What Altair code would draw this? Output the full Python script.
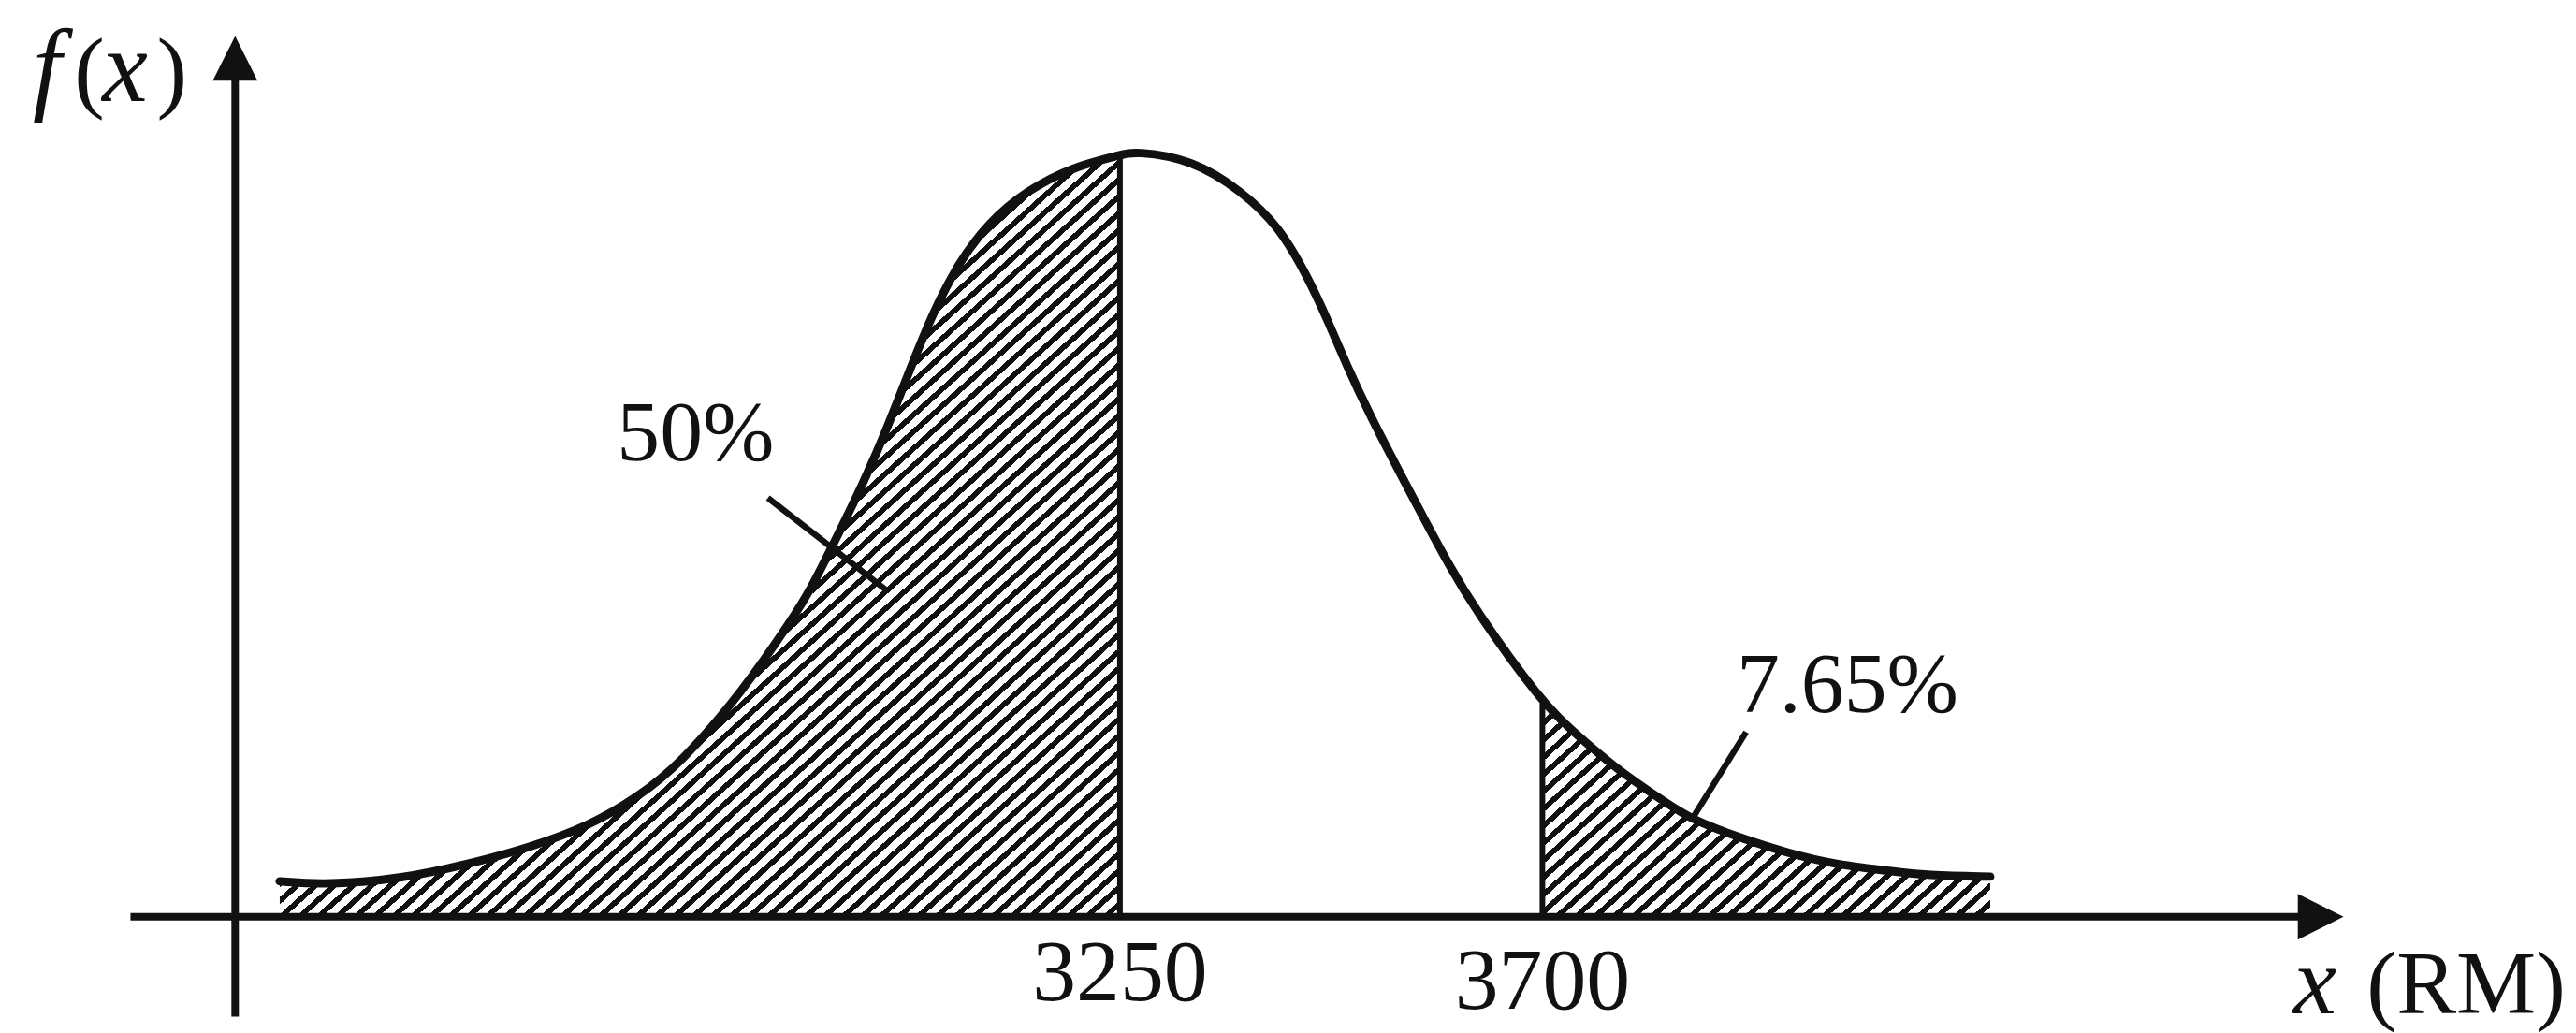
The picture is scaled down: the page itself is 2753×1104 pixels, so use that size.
import math
import altair as alt
import pandas as pd

# ---------------- data ----------------
# x in RM, f = relative height of the density curve (axis has no scale)
curve_x = [2355, 2405, 2487, 2554, 2621, 2686, 2736, 2781, 2850, 2902,
           2919, 2949, 2978, 3001, 3028, 3051, 3078, 3110, 3150, 3200,
           3250, 3265, 3329, 3379, 3419, 3451, 3471, 3491, 3518, 3545,
           3571, 3600, 3627, 3700, 3730, 3779, 3829, 3859, 3912, 3962,
           4012, 4062, 4111, 4177]
curve_f = [0.038, 0.034, 0.041, 0.056, 0.074, 0.098, 0.128, 0.163, 0.244, 0.321,
           0.348, 0.408, 0.468, 0.521, 0.591, 0.648, 0.701, 0.744, 0.778, 0.804,
           0.816, 0.821, 0.811, 0.778, 0.741, 0.684, 0.640, 0.592, 0.534, 0.482,
           0.432, 0.378, 0.331, 0.229, 0.201, 0.158, 0.124, 0.104, 0.084, 0.068,
           0.056, 0.050, 0.044, 0.043]

mean_x = 3250          # 50 % lies below
cut_x = 3700           # 7.65 % lies above
tick_labels = ["3250", "3700"]
tick_label_y = [-0.089, -0.099]

pct_labels = ["50%", "7.65%"]
pct_x = [2798, 4025]
pct_y = [0.489, 0.219]
# pointer lines from label to shaded region
ptr_x = [2875, 3917]
ptr_y = [0.449, 0.198]
ptr_x2 = [3000, 3859]
ptr_y2 = [0.351, 0.104]

# axis geometry (data units)
xaxis_from, xaxis_to, xarrow_at = 2196, 4512, 4529
yaxis_at, yaxis_from, yaxis_to, yarrow_at = 2307.5, -0.107, 0.90, 0.920

# axis titles split in italic / upright pieces
ytitle_txt = ["f", "(", "x", ")"]
ytitle_x = [2092, 2136, 2166, 2224]
ytitle_italic = [True, False, True, False]
ytitle_y = 0.874
xtitle_txt = ["x", "(RM)"]
xtitle_x = [4500, 4578]
xtitle_italic = [True, False]
xtitle_y = -0.104

INK = "#111111"
FONT = "Liberation Serif"

# ---------------- tables ----------------
curve = pd.DataFrame({"x": curve_x, "f": curve_f})
left = curve[curve.x <= mean_x]
right = curve[curve.x >= cut_x]
top_at = dict(zip(curve_x, curve_f))

cuts = pd.DataFrame({"x": [mean_x, cut_x], "y": [0, 0],
                     "y2": [top_at[mean_x], top_at[cut_x]]})
ticks = pd.DataFrame({"x": [mean_x, cut_x], "y": tick_label_y, "t": tick_labels})
pcts = pd.DataFrame({"x": pct_x, "y": pct_y, "t": pct_labels})
ptrs = pd.DataFrame({"x": ptr_x, "y": ptr_y, "x2": ptr_x2, "y2": ptr_y2})
axes = pd.DataFrame({"x": [xaxis_from, yaxis_at], "x2": [xaxis_to, yaxis_at],
                     "y": [0, yaxis_from], "y2": [0, yaxis_to]})
arrow_r = pd.DataFrame({"x": [xarrow_at], "y": [0]})
arrow_u = pd.DataFrame({"x": [yaxis_at], "y": [yarrow_at]})
ytitles = pd.DataFrame({"t": ytitle_txt, "x": ytitle_x,
                        "y": [ytitle_y] * len(ytitle_txt), "it": ytitle_italic})
xtitles = pd.DataFrame({"t": xtitle_txt, "x": xtitle_x,
                        "y": [xtitle_y] * len(xtitle_txt), "it": xtitle_italic})

# ---------------- layout ----------------
W, H = 2745, 1096
xs = alt.Scale(domain=[2065, 4793], nice=False, zero=False)
ys = alt.Scale(domain=[-0.123, 0.973], nice=False, zero=False)
X = lambda f="x": alt.X(f"{f}:Q", scale=xs, axis=None)
Y = lambda f="y": alt.Y(f"{f}:Q", scale=ys, axis=None)


def hatch(w, h, period=13.5, ink=5.8, angle=42):
    """diagonal stripes as a linear gradient in bounding-box units"""
    nx, ny = math.sin(math.radians(angle)), math.cos(math.radians(angle))
    a, b = nx / h, ny / w
    s = (a + b) / (a * a + b * b)
    L = nx * w + ny * h
    n = max(1, round(L / period))
    frac = ink / (L / n)
    stops = []
    for i in range(n):
        o0, o1, o2 = i / n, (i + frac) / n, (i + 1) / n
        stops += [alt.GradientStop(color=INK, offset=o0),
                  alt.GradientStop(color=INK, offset=o1),
                  alt.GradientStop(color="#ffffff", offset=o1),
                  alt.GradientStop(color="#ffffff", offset=o2)]
    return alt.LinearGradient(gradient="linear", stops=stops,
                              x1=0, y1=0, x2=s * a, y2=s * b)


SMOOTH = "basis"

area_left = alt.Chart(left).mark_area(
    interpolate=SMOOTH, fill=hatch(900, 816), opacity=1, strokeWidth=0
).encode(x=X(), y=Y("f"), y2=alt.datum(0))

area_right = alt.Chart(right).mark_area(
    interpolate=SMOOTH, fill=hatch(481, 229), opacity=1, strokeWidth=0
).encode(x=X(), y=Y("f"), y2=alt.datum(0))

line = alt.Chart(curve).mark_line(
    interpolate=SMOOTH, color=INK, strokeWidth=9, strokeCap="round"
).encode(x=X(), y=Y("f"))

cut_rules = alt.Chart(cuts).mark_rule(color=INK, strokeWidth=6).encode(
    x=X(), y=Y(), y2="y2:Q")

axis_rules = alt.Chart(axes).mark_rule(color=INK, strokeWidth=8).encode(
    x=X(), x2="x2:Q", y=Y(), y2="y2:Q")

arrow_right = alt.Chart(arrow_r).mark_point(
    shape="M-1,-1L1,0L-1,1Z", filled=True, size=2401, color=INK, opacity=1
).encode(x=X(), y=Y())

arrow_up = alt.Chart(arrow_u).mark_point(
    shape="M-1,1L0,-1L1,1Z", filled=True, size=2304, color=INK, opacity=1
).encode(x=X(), y=Y())

ptr_rules = alt.Chart(ptrs).mark_rule(color=INK, strokeWidth=6.5).encode(
    x=X(), x2="x2:Q", y=Y(), y2="y2:Q")

tick_text = alt.Chart(ticks).mark_text(
    font=FONT, fontSize=94, color=INK, align="center", baseline="alphabetic"
).encode(x=X(), y=Y(), text="t:N")

pct_text = alt.Chart(pcts).mark_text(
    font=FONT, fontSize=92, color=INK, align="center", baseline="alphabetic"
).encode(x=X(), y=Y(), text="t:N")

ytitle_it = alt.Chart(ytitles[ytitles.it]).mark_text(
    font=FONT, fontSize=110, fontStyle="italic", color=INK, align="left",
    baseline="alphabetic"
).encode(x=X(), y=Y(), text="t:N")

ytitle_up = alt.Chart(ytitles[~ytitles.it]).mark_text(
    font=FONT, fontSize=98, color=INK, align="left", baseline="alphabetic"
).encode(x=X(), y=Y(), text="t:N")

xtitle_it = alt.Chart(xtitles[xtitles.it]).mark_text(
    font=FONT, fontSize=104, fontStyle="italic", color=INK, align="left",
    baseline="alphabetic"
).encode(x=X(), y=Y(), text="t:N")

xtitle_up = alt.Chart(xtitles[~xtitles.it]).mark_text(
    font=FONT, fontSize=96, color=INK, align="left", baseline="alphabetic"
).encode(x=X(), y=Y(), text="t:N")

chart = alt.layer(
    area_left, area_right, line, cut_rules, axis_rules, arrow_right, arrow_up,
    ptr_rules, tick_text, pct_text, ytitle_it, ytitle_up, xtitle_it, xtitle_up
).properties(
    width=W, height=H, autosize="none", padding=0, background="white"
).configure_view(strokeWidth=0)

chart.save("out.html", embed_options={"renderer": "svg", "actions": False})
